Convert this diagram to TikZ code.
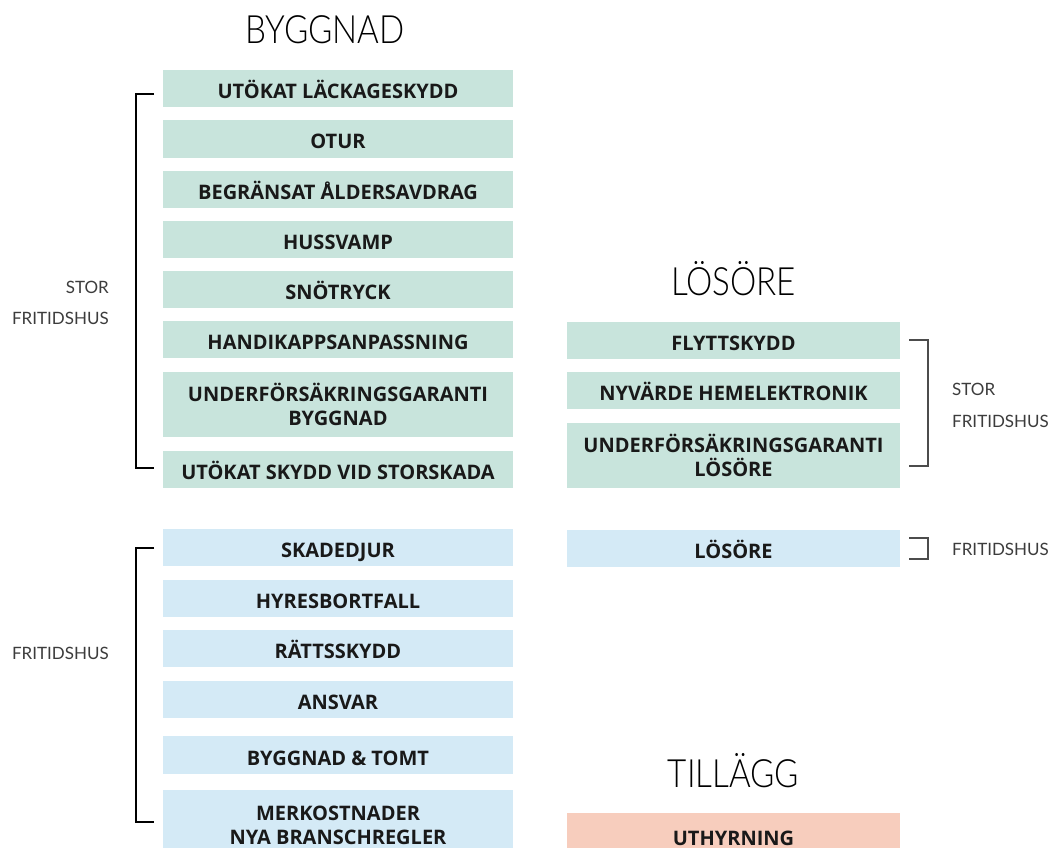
\documentclass[tikz,border=0pt]{standalone}
\usepackage{fontspec}
\newfontfamily\boxfont{Open Sans}
\newfontfamily\titlefont{Lato Light}[FakeStretch=0.85]
\newfontfamily\labelfont{Lato}
\definecolor{boxgreen}{RGB}{200,228,220}
\definecolor{boxblue}{RGB}{212,234,246}
\definecolor{boxsalmon}{RGB}{247,205,189}
\definecolor{txt}{RGB}{25,25,25}
\definecolor{lbl}{RGB}{60,60,60}
\begin{document}
\begin{tikzpicture}[x=1pt,y=-1pt,
  cbox/.style={rectangle, inner sep=0pt, align=center, text=txt,
    font=\boxfont\bfseries\fontsize{20}{24}\selectfont},
  leftbox/.style={cbox, minimum width=350pt},
  rightbox/.style={cbox, minimum width=333pt},
  gbox/.style={fill=boxgreen},
  bbox/.style={fill=boxblue},
  sbox/.style={fill=boxsalmon},
  h1/.style={minimum height=37pt, text height=20pt, text depth=0pt},
  h2/.style={minimum height=65pt},
  title/.style={inner sep=0pt, anchor=base, text=black,
    font=\titlefont\fontsize{39}{39}\selectfont},
  lab/.style={inner sep=0pt, text=lbl, font=\labelfont\fontsize{17}{18}\selectfont},
  brk/.style={line width=1.4pt, black},
  brkr/.style={line width=1.2pt, black!70}
]
\useasboundingbox (0,0) rectangle (1054,848);

% titles
\node[title] (tbygg) at (325,44) {BYGGNAD};
\node[title] (tlos) at (733.5,295) {LÖSÖRE};
\node[title] (ttill) at (733.5,787) {TILLÄGG};

% left green boxes
\node[leftbox,gbox,h1] (g1) at (338,88.5) {UTÖKAT LÄCKAGESKYDD};
\node[leftbox,gbox,h1] (g2) at (338,139) {OTUR};
\node[leftbox,gbox,h1] (g3) at (338,189) {BEGRÄNSAT ÅLDERSAVDRAG};
\node[leftbox,gbox,h1] (g4) at (338,239.5) {HUSSVAMP};
\node[leftbox,gbox,h1] (g5) at (338,289.5) {SNÖTRYCK};
\node[leftbox,gbox,h1] (g6) at (338,339.5) {HANDIKAPPSANPASSNING};
\node[leftbox,gbox,h2] (g7) at (338,404.5) {UNDERFÖRSÄKRINGSGARANTI\\BYGGNAD};
\node[leftbox,gbox,h1] (g8) at (338,469.5) {UTÖKAT SKYDD VID STORSKADA};

% left blue boxes
\node[leftbox,bbox,h1] (b1) at (338,547.5) {SKADEDJUR};
\node[leftbox,bbox,h1] (b2) at (338,598.5) {HYRESBORTFALL};
\node[leftbox,bbox,h1] (b3) at (338,648.5) {RÄTTSSKYDD};
\node[leftbox,bbox,h1] (b4) at (338,699.5) {ANSVAR};
\node[leftbox,bbox,h1,minimum height=38pt] (b5) at (338,755) {BYGGNAD \& TOMT};
\node[leftbox,bbox,minimum height=70pt] (b6) at (338,825) {MERKOSTNADER\\NYA BRANSCHREGLER};

% right boxes
\node[rightbox,gbox,h1] (r1) at (733.5,340) {FLYTTSKYDD};
\node[rightbox,gbox,h1] (r2) at (733.5,390.5) {NYVÄRDE HEMELEKTRONIK};
\node[rightbox,gbox,h2] (r3) at (733.5,455) {UNDERFÖRSÄKRINGSGARANTI\\LÖSÖRE};
\node[rightbox,bbox,h1] (r4) at (733.5,548) {LÖSÖRE};
\node[rightbox,sbox,h1,minimum height=44pt] (r5) at (733.5,835) {UTHYRNING};

% labels
\node[lab,anchor=base east] (ls1) at (109,293) {STOR};
\node[lab,anchor=base east] (ls2) at (109,324) {FRITIDSHUS};
\node[lab,anchor=base east] (lf) at (109,659) {FRITIDSHUS};
\node[lab,anchor=base west] (rs1) at (952,395) {STOR};
\node[lab,anchor=base west] (rs2) at (952,427) {FRITIDSHUS};
\node[lab,anchor=base west] (rf) at (952,555) {FRITIDSHUS};

% brackets
\coordinate (lgA) at (154,94);  \coordinate (lgB) at (154,468);
\coordinate (lbA) at (154,548); \coordinate (lbB) at (154,822);
\coordinate (rgA) at (909,340); \coordinate (rgB) at (909,466);
\coordinate (rbA) at (909,538); \coordinate (rbB) at (909,559);
\draw[brk] (lgA) -- ++(-18,0) |- (lgB);
\draw[brk] (lbA) -- ++(-18,0) |- (lbB);
\draw[brkr] (rgA) -- ++(19,0) |- (rgB);
\draw[brkr] (rbA) -- ++(19,0) |- (rbB);
\end{tikzpicture}
\end{document}
